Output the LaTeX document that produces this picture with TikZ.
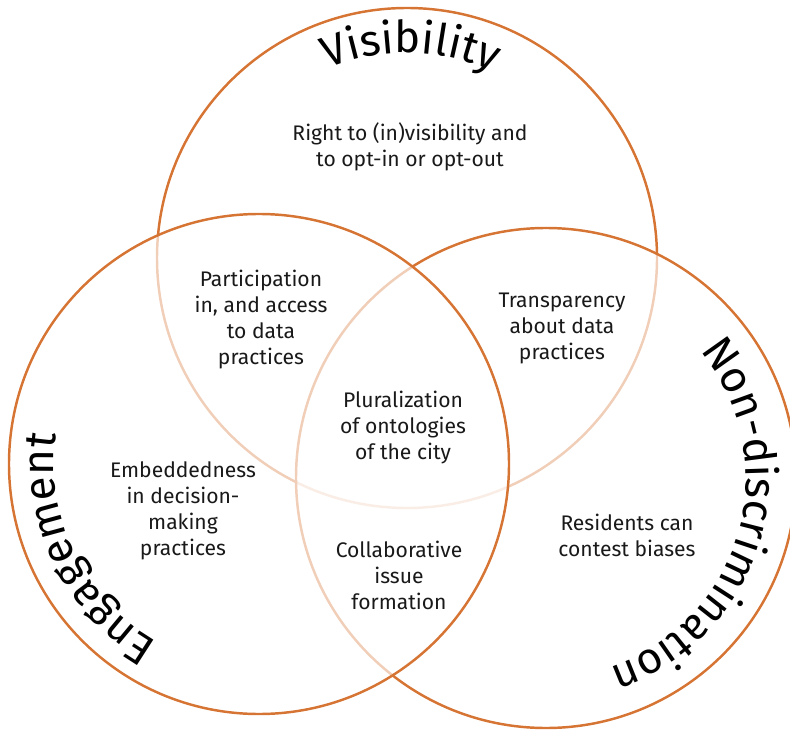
\documentclass[tikz,border=0pt]{standalone}
\usepackage{fontspec}
\setmainfont{Fira Sans}
\usetikzlibrary{decorations.text}
\definecolor{vennorange}{RGB}{214,116,52}
\definecolor{venntext}{RGB}{25,25,25}
\newcommand{\ringlabel}{\fontsize{25}{25}\selectfont}

\begin{document}
\begin{tikzpicture}[
  ring/.style={draw=vennorange, line width=1.4pt},
  veil/.style={fill=white, fill opacity=0.65},
  area/.style={align=center, text=venntext, font=\fontsize{12}{14.8}\selectfont},
  curved/.style={decorate, decoration={text along path, text align=center, text={#1}}}
]
\useasboundingbox (0,0) rectangle (15.8,14.6);
\coordinate (vis) at (8.14,9.44);
\coordinate (eng) at (5.18,5.32);
\coordinate (non) at (10.92,5.04);
% circles
\draw[ring] (vis) circle (5);
\fill[veil] (non) circle (5);
\draw[ring] (non) circle (5);
\fill[veil] (eng) circle (5);
\draw[ring] (eng) circle (5);
% titles along the rims
\path[curved={|\ringlabel|Visibility}] (vis) ++(125:4.1) arc[start angle=125, end angle=53, radius=4.1];
\path[curved={|\ringlabel|Engagement}] (eng) ++(246:4.1) arc[start angle=246, end angle=166, radius=4.1];
\path[curved={|\ringlabel|Non-discrimination}] (non) ++(52:4.0) arc[start angle=52, end angle=-84, radius=4.0];
% regions
\node[area] (rightvis) at (8.2,11.66) {Right to (in)visibility and\\to opt-in or opt-out};
\node[area] (particip) at (5.22,8.2) {Participation\\in, and access\\to data\\practices};
\node[area] (transp) at (11.24,8.04) {Transparency\\about data\\practices};
\node[area] (plural) at (8.06,6.04) {Pluralization\\of ontologies\\of the city};
\node[area] (embed) at (3.66,4.38) {Embeddedness\\in decision-\\making\\practices};
\node[area] (collab) at (7.98,3.1) {Collaborative\\issue\\formation};
\node[area] (resid) at (12.54,3.9) {Residents can\\contest biases};
\end{tikzpicture}
\end{document}
